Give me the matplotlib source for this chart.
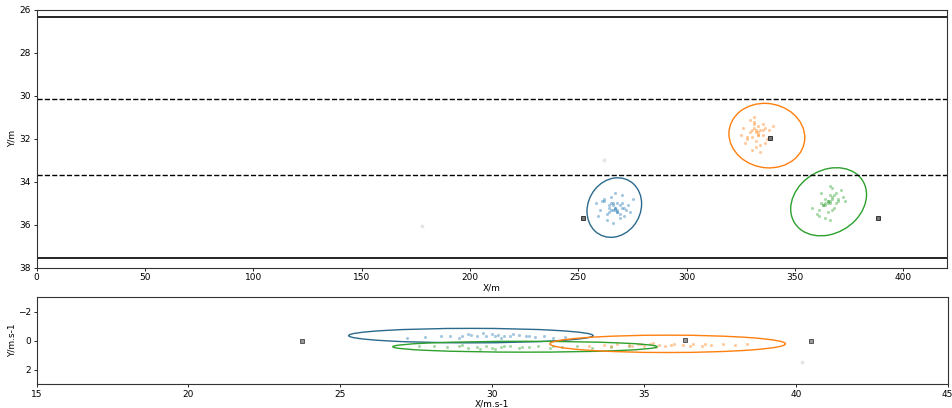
import matplotlib
matplotlib.use("Agg")
import matplotlib.pyplot as plt
from matplotlib.patches import Ellipse

# ---------------- data: position plot ----------------
lane_solid = [26.33, 37.56]
lane_dashed = [30.15, 33.69]

blue_x = [266, 268, 270, 264, 262, 271, 267, 265, 269, 273, 260, 263, 275, 258, 266,
          270, 268, 264, 272, 261, 267, 269, 265, 274, 259, 262, 271, 266, 268, 263,
          267, 269, 265, 268, 266, 270, 264, 267]
blue_y = [35.1, 35.3, 35.0, 35.4, 34.9, 35.6, 35.2, 34.7, 35.5, 35.1, 35.3, 35.8, 34.8, 35.0, 35.9,
          34.6, 35.4, 35.2, 35.3, 34.9, 34.5, 35.7, 35.0, 35.4, 35.6, 34.8, 35.2, 35.3, 35.0, 35.5,
          35.2, 35.1, 35.3, 35.4, 35.0, 35.2, 35.1, 35.3]
orange_x = [330, 333, 335, 328, 331, 336, 332, 329, 334, 338, 326, 331, 337, 327, 333,
            335, 330, 332, 339, 325, 334, 331, 336, 329, 333, 340, 328, 332, 335, 330,
            332, 334, 331, 333]
orange_y = [31.6, 31.4, 31.8, 31.9, 31.2, 31.5, 32.1, 31.7, 32.3, 31.6, 31.5, 31.0, 32.0, 32.2, 31.8,
            31.3, 32.5, 31.6, 31.9, 31.8, 32.6, 31.3, 32.2, 31.1, 31.7, 31.4, 32.0, 32.4, 31.6, 31.9,
            31.7, 31.6, 31.5, 31.8]
green_x = [365, 367, 363, 369, 361, 366, 371, 364, 368, 360, 366, 373, 362, 367, 365,
           370, 358, 364, 368, 363, 366, 372, 361, 369, 365, 367, 362, 366, 364, 370,
           366, 365, 367, 364]
green_y = [34.9, 34.7, 35.1, 34.5, 35.3, 35.0, 34.4, 34.8, 35.2, 35.5, 34.6, 34.9, 35.0, 34.3, 35.4,
           34.8, 35.2, 35.7, 34.6, 35.1, 34.2, 34.7, 35.6, 35.0, 34.9, 35.3, 34.5, 35.8, 35.0, 34.9,
           34.9, 35.0, 34.8, 35.1]

# ellipses: (cx, cy, width, height, angle)
pos_ell_blue = (266.6, 35.2, 25.2, 2.75, -0.8)
pos_ell_orange = (337.0, 31.85, 35.0, 3.0, 0.3)
pos_ell_green = (365.5, 34.93, 35.0, 3.1, -1.1)

meas_x = [252.3, 338.4, 388.4]
meas_y = [35.70, 31.95, 35.67]
faint_x = [262, 178]
faint_y = [33.0, 36.06]

# ---------------- data: velocity plot ----------------
bvx = [27.2, 27.8, 28.3, 28.6, 29.0, 29.3, 29.5, 29.8, 30.0, 30.2, 30.4, 30.6, 30.9, 31.1, 31.4,
       31.7, 32.0, 32.4, 28.9, 29.7, 30.3, 30.7, 29.2, 30.1, 31.2]
bvy = [-0.2, -0.25, -0.3, -0.35, -0.3, -0.4, -0.35, -0.3, -0.45, -0.4, -0.35, -0.3, -0.4, -0.3, -0.25,
       -0.3, -0.2, -0.25, -0.15, -0.5, -0.2, -0.45, -0.45, -0.3, -0.35]
gvx = [27.6, 28.1, 28.5, 28.9, 29.2, 29.5, 29.8, 30.1, 30.3, 30.6, 30.9, 31.2, 31.5, 31.9, 32.3,
       32.8, 33.3, 33.9, 34.5, 29.0, 29.6, 30.4, 31.0, 30.0, 32.0]
gvy = [0.35, 0.4, 0.45, 0.4, 0.5, 0.45, 0.4, 0.55, 0.45, 0.4, 0.5, 0.45, 0.35, 0.5, 0.45,
       0.4, 0.5, 0.45, 0.4, 0.3, 0.55, 0.35, 0.45, 0.5, 0.4]
ovx = [33.2, 33.7, 34.1, 34.5, 34.8, 35.0, 35.2, 35.5, 35.7, 36.0, 36.3, 36.6, 36.9, 37.2, 37.6,
       38.0, 38.4, 34.6, 35.3, 35.9, 36.5, 34.9, 35.4, 37.0, 33.9]
ovy = [0.35, 0.3, 0.25, 0.3, 0.2, 0.35, 0.25, 0.3, 0.4, 0.2, 0.3, 0.25, 0.35, 0.3, 0.2,
       0.3, 0.25, 0.4, 0.15, 0.3, 0.35, 0.25, 0.45, 0.2, 0.35]

vel_ell_blue = (29.3, -0.35, 8.05, 1.0, 0.0)
vel_ell_green = (31.08, 0.42, 8.7, 0.75, 0.0)
vel_ell_orange = (35.78, 0.22, 7.76, 1.2, 0.0)

vmeas_x = [23.75, 36.34, 40.49]
vmeas_y = [0.0, -0.07, 0.0]
vfaint_x = [40.2]
vfaint_y = [1.5]

C_BLUE, C_ORANGE, C_GREEN = "#1f77b4", "#ff7f0e", "#2ca02c"
E_BLUE = "#2b6a8c"

fig = plt.figure(figsize=(9.53, 4.08), dpi=100)
ax1 = fig.add_axes([0.0384, 0.3439, 0.955, 0.6316])
ax2 = fig.add_axes([0.0384, 0.0588, 0.956, 0.2125])

fs = 6.5
PS, PA = 5, 0.4

# ---- top ----
for y in lane_solid:
    ax1.axhline(y, color="black", lw=1.2)
for y in lane_dashed:
    ax1.axhline(y, color="black", lw=1.0, ls="--")

ax1.scatter(blue_x, blue_y, s=PS, color=C_BLUE, alpha=PA, lw=0)
ax1.scatter(orange_x, orange_y, s=PS, color=C_ORANGE, alpha=PA, lw=0)
ax1.scatter(green_x, green_y, s=PS, color=C_GREEN, alpha=PA, lw=0)
ax1.scatter(faint_x, faint_y, s=8, color="#cccccc", alpha=0.5, lw=0)

for (cx, cy, w, h, a), ec in [(pos_ell_blue, E_BLUE), (pos_ell_orange, C_ORANGE), (pos_ell_green, C_GREEN)]:
    ax1.add_patch(Ellipse((cx, cy), w, h, angle=a, fill=False, edgecolor=ec, lw=1.0))

ax1.plot(meas_x, meas_y, ls="none", marker="s", ms=3.5, mfc="#777777", mec="#222222", mew=0.6)

ax1.set_xlim(0, 420)
ax1.set_ylim(38, 26)
ax1.set_xticks(range(0, 401, 50))
ax1.set_yticks(range(26, 39, 2))
ax1.tick_params(labelsize=fs, length=2.5, width=0.6, pad=1.5)
ax1.set_xlabel("X/m", fontsize=fs, labelpad=1)
ax1.set_ylabel("Y/m", fontsize=fs, labelpad=2)

# ---- bottom ----
ax2.scatter(bvx, bvy, s=PS, color=C_BLUE, alpha=PA, lw=0)
ax2.scatter(gvx, gvy, s=PS, color=C_GREEN, alpha=PA, lw=0)
ax2.scatter(ovx, ovy, s=PS, color=C_ORANGE, alpha=PA, lw=0)
ax2.scatter(vfaint_x, vfaint_y, s=8, color="#cccccc", alpha=0.5, lw=0)

for (cx, cy, w, h, a), ec in [(vel_ell_blue, E_BLUE), (vel_ell_green, C_GREEN), (vel_ell_orange, C_ORANGE)]:
    ax2.add_patch(Ellipse((cx, cy), w, h, angle=a, fill=False, edgecolor=ec, lw=1.0))

ax2.plot(vmeas_x, vmeas_y, ls="none", marker="s", ms=3.5, mfc="#999999", mec="#444444", mew=0.6)

ax2.set_xlim(15, 45)
ax2.set_ylim(3, -3)
ax2.set_xticks(range(15, 46, 5))
ax2.set_yticks([-2, 0, 2])
ax2.tick_params(labelsize=fs, length=2.5, width=0.6, pad=1.5)
ax2.set_xlabel("X/m.s-1", fontsize=fs, labelpad=1)
ax2.set_ylabel("Y/m.s-1", fontsize=fs, labelpad=1)

for ax in (ax1, ax2):
    for sp in ax.spines.values():
        sp.set_linewidth(0.8)
        sp.set_color("#333333")

fig.savefig("out.png", dpi=100)
